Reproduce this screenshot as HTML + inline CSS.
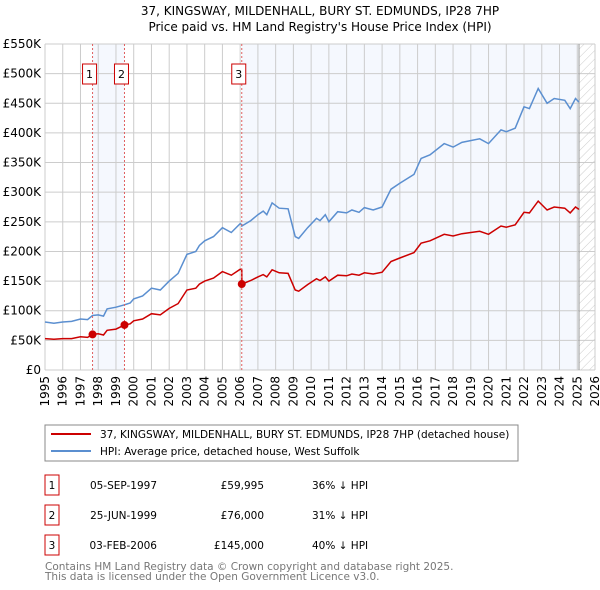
<!DOCTYPE html>
<html><head><meta charset="utf-8"><style>
body{margin:0;background:#fff;}
svg{display:block;font-family:"DejaVu Sans","Liberation Sans",sans-serif;}
</style></head><body>
<svg id="chart" width="600" height="590" xmlns="http://www.w3.org/2000/svg">
<text x="320" y="15" font-size="12" text-anchor="middle">37, KINGSWAY, MILDENHALL, BURY ST. EDMUNDS, IP28 7HP</text>
<text x="320" y="31" font-size="12" text-anchor="middle">Price paid vs. HM Land Registry's House Price Index (HPI)</text>
<defs><pattern id="hatch" width="6" height="6" patternUnits="userSpaceOnUse" patternTransform="rotate(45)"><line x1="0" y1="0" x2="0" y2="6" stroke="#ccc" stroke-width="1"/></pattern></defs>
<g id="shade"></g><g id="grid"></g><g id="axes"></g><g id="series"></g><g id="marks"></g>
<g>
<rect x="45" y="425" width="473" height="36" fill="#fff" stroke="#888"/>
<line x1="51" y1="434" x2="91" y2="434" stroke="#cc0000" stroke-width="2"/>
<text x="100" y="438" font-size="10.5">37, KINGSWAY, MILDENHALL, BURY ST. EDMUNDS, IP28 7HP (detached house)</text>
<line x1="51" y1="451" x2="91" y2="451" stroke="#5b8fd0" stroke-width="2"/>
<text x="100" y="455" font-size="10.5">HPI: Average price, detached house, West Suffolk</text>
</g>
<g id="table" font-size="10.5"></g>
<text x="45" y="570" font-size="10.5" fill="#777">Contains HM Land Registry data © Crown copyright and database right 2025.</text>
<text x="45" y="580" font-size="10.5" fill="#777">This data is licensed under the Open Government Licence v3.0.</text>
</svg>
<script>
const years=[1995.0,1995.5,1996.0,1996.5,1997.0,1997.4,1997.68,1998.0,1998.3,1998.5,1999.0,1999.48,1999.8,2000.0,2000.5,2001.0,2001.5,2002.0,2002.5,2003.0,2003.5,2003.7,2004.0,2004.5,2005.0,2005.5,2006.0,2006.09,2006.1,2006.6,2007.0,2007.3,2007.5,2007.8,2008.2,2008.7,2009.1,2009.3,2009.8,2010.3,2010.5,2010.8,2011.0,2011.5,2012.0,2012.3,2012.7,2013.0,2013.5,2014.0,2014.5,2015.0,2015.8,2016.2,2016.7,2017.5,2018.0,2018.5,2019.5,2020.0,2020.7,2021.0,2021.5,2022.0,2022.3,2022.8,2023.3,2023.7,2024.3,2024.6,2024.9,2025.1];
const hpi=[81,79,81,82,86,85,92,93,91,103,106,110,113,120,125,138,135,150,163,195,200,210,218,225,240,232,247,245,243,252,262,268,262,282,273,272,225,222,240,256,252,262,250,267,265,270,266,274,270,275,305,315,330,357,363,382,376,384,390,382,405,402,408,444,441,475,450,458,455,441,458,452];
const red=[53,52,53,53,56,55,60,61,59,67,69,76,78,83,86,95,93,104,112,135,138,145,150,155,166,160,170,169,145,151,157,161,157,169,164,163,135,133,144,154,151,157,150,160,159,162,160,164,162,165,183,189,198,214,218,229,226,230,234,229,243,241,245,266,265,285,270,275,273,265,275,271];
const saleYears=[1997.68,1999.48,2006.09];
const salePrices=[60,76,145];
const saleLabels=["1","2","3"];
const saleDates=["05-SEP-1997","25-JUN-1999","03-FEB-2006"];
const salePriceText=["£59,995","£76,000","£145,000"];
const saleHpiText=["36% ↓ HPI","31% ↓ HPI","40% ↓ HPI"];
const yTicks=[0,50,100,150,200,250,300,350,400,450,500,550];
const yTickLabels=["£0","£50K","£100K","£150K","£200K","£250K","£300K","£350K","£400K","£450K","£500K","£550K"];
const xTicks=[1995,1996,1997,1998,1999,2000,2001,2002,2003,2004,2005,2006,2007,2008,2009,2010,2011,2012,2013,2014,2015,2016,2017,2018,2019,2020,2021,2022,2023,2024,2025,2026];
const dataEnd=2025.1;

const NS="http://www.w3.org/2000/svg";
const X0=45,X1=595,Y0=370,Y1=44;
const xs=y=>X0+(y-1995)/(2026-1995)*(X1-X0);
const ys=v=>Y0-v/550*(Y0-Y1);
function mk(tag,attrs,parent){const e=document.createElementNS(NS,tag);for(const k in attrs)e.setAttribute(k,attrs[k]);parent.appendChild(e);return e;}
const shade=document.getElementById('shade'),grid=document.getElementById('grid'),axes=document.getElementById('axes'),series=document.getElementById('series'),marks=document.getElementById('marks'),table=document.getElementById('table');

let r=mk('rect',{x:xs(saleYears[0]),y:Y1,width:xs(saleYears[1])-xs(saleYears[0]),height:Y0-Y1,fill:'#f5f8fe'},shade);

r=mk('rect',{x:xs(saleYears[2]),y:Y1,width:xs(dataEnd)-xs(saleYears[2]),height:Y0-Y1,fill:'#f5f8fe'},shade);

r=mk('rect',{x:xs(dataEnd),y:Y1,width:X1-xs(dataEnd),height:Y0-Y1,fill:'url(#hatch)'},shade);


yTicks.forEach((t,i)=>{
 const l=mk('line',{x1:X0,x2:X1,y1:ys(t),y2:ys(t),stroke:'#cccccc'},grid);
 
 const tx=mk('text',{x:X0-4,y:ys(t)+4,'font-size':12,'text-anchor':'end'},axes);tx.textContent=yTickLabels[i];
 
});
xTicks.forEach(t=>{
 const l=mk('line',{x1:xs(t),x2:xs(t),y1:Y1,y2:Y0,stroke:'#cccccc'},grid);
 
 const tx=mk('text',{x:0,y:0,'font-size':12,'text-anchor':'end',transform:`translate(${xs(t)+4},${Y0+6}) rotate(-90)`},axes);tx.textContent=t;
 
});
let el=mk('line',{x1:xs(dataEnd),x2:xs(dataEnd),y1:Y1,y2:Y0,stroke:'#999'},grid);


saleYears.forEach((s,i)=>{
 const l=mk('line',{x1:xs(s),x2:xs(s),y1:Y1,y2:Y0,stroke:'#e06060','stroke-dasharray':'2,2'},marks);
 
});

const pathOf=a=>years.map((y,i)=>(i?'L':'M')+xs(y).toFixed(1)+','+ys(a[i]).toFixed(1)).join('');
let p=mk('path',{d:pathOf(hpi),fill:'none',stroke:'#5b8fd0','stroke-width':1.5},series);

p=mk('path',{d:pathOf(red),fill:'none',stroke:'#cc0000','stroke-width':1.5},series);


saleYears.forEach((s,i)=>{
 const c=mk('circle',{cx:xs(s),cy:ys(salePrices[i]),r:4,fill:'#cc0000'},marks);
 
 const b=mk('rect',{x:xs(s)-10,y:64,width:14,height:20,fill:'#fff',stroke:'#cc0000'},marks);
 
 const t=mk('text',{x:xs(s)-3,y:78,'font-size':11,'text-anchor':'middle'},marks);t.textContent=saleLabels[i];
 

 const ry=475+i*30;
 const tb=mk('rect',{x:45,y:ry,width:14,height:20,fill:'#fff',stroke:'#cc0000'},table);
 
 const cells=[[52,saleLabels[i],'middle'],[157,saleDates[i],'end'],[264,salePriceText[i],'end'],[312,saleHpiText[i],'start']];
 cells.forEach(c2=>{const tt=mk('text',{x:c2[0],y:ry+14,'text-anchor':c2[2]},table);tt.textContent=c2[1];
  });
});
</script>
</body></html>
